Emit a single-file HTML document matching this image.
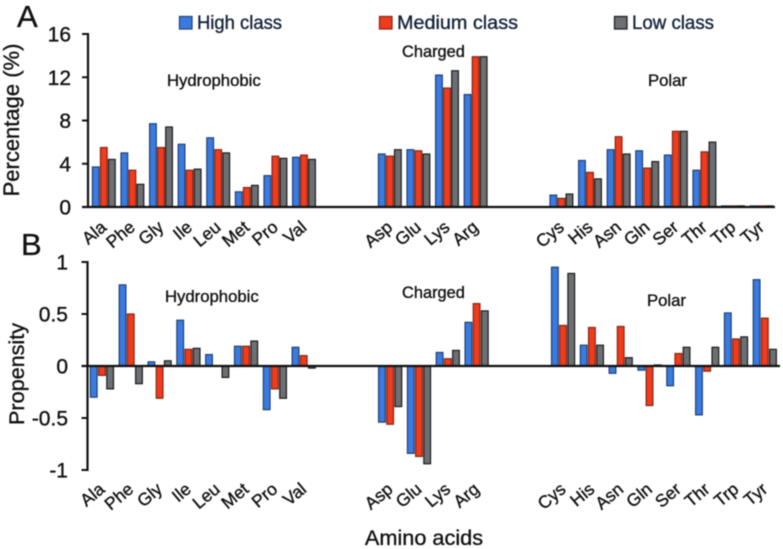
<!DOCTYPE html>
<html lang="en">
<head>
<meta charset="utf-8">
<title>Amino acid percentage and propensity by class</title>
<style>
html,body{margin:0;padding:0;background:#fff}
svg{display:block;filter:blur(.45px)}
text{font-family:"Liberation Sans",Arial,sans-serif;fill:#111;stroke:#111;stroke-width:.35px}
</style>
</head>
<body>
<svg id="chart" xmlns="http://www.w3.org/2000/svg" width="783" height="549" viewBox="0 0 783 549">
  <text x="17" y="27" font-size="31">A</text>
  <text x="21" y="255" font-size="31">B</text>

  <g>
    <rect x="179.5" y="16.5" width="12.5" height="12.5" fill="#3a7be0" stroke="#24477f" stroke-width="1.3"/>
    <text x="197" y="29" font-size="19" textLength="85" lengthAdjust="spacingAndGlyphs" style="fill:#14233a;stroke:#14233a">High class</text>
    <rect x="379.5" y="16.5" width="12.5" height="12.5" fill="#f23a1c" stroke="#8c2a18" stroke-width="1.3"/>
    <text x="397" y="29" font-size="19" textLength="121" lengthAdjust="spacingAndGlyphs" style="fill:#14233a;stroke:#14233a">Medium class</text>
    <rect x="614.5" y="16.5" width="12.5" height="12.5" fill="#6c7072" stroke="#222" stroke-width="1.3"/>
    <text x="632" y="29" font-size="19" textLength="82" lengthAdjust="spacingAndGlyphs" style="fill:#14233a;stroke:#14233a">Low class</text>
  </g>

  <text transform="translate(19,120) rotate(-90)" text-anchor="middle" font-size="22">Percentage (%)</text>
  <text transform="translate(24,374) rotate(-90)" text-anchor="middle" font-size="21.6">Propensity</text>
  <text x="424" y="545" text-anchor="middle" font-size="21.7">Amino acids</text>

  <text x="167" y="86" font-size="16.7">Hydrophobic</text>
  <text x="402" y="57" font-size="16.4">Charged</text>
  <text x="648" y="86" font-size="16.7">Polar</text>
  <text x="165" y="302" font-size="16.7">Hydrophobic</text>
  <text x="402" y="298" font-size="16.4">Charged</text>
  <text x="647" y="306" font-size="16.7">Polar</text>

  <g id="panelA"></g>
  <g id="panelB"></g>
</svg>
<script>
const categories = ['Ala','Phe','Gly','Ile','Leu','Met','Pro','Val','','','Asp','Glu','Lys','Arg','','','Cys','His','Asn','Gln','Ser','Thr','Trp','Tyr'];

const percentHigh   = [3.7,5.0,7.7,5.8,6.4,1.4,2.9,4.6,null,null,4.9,5.3,12.2,10.4,null,null,1.1,4.3,5.3,5.2,4.8,3.4,0.1,0.1];
const percentMedium = [5.5,3.4,5.5,3.4,5.3,1.8,4.7,4.8,null,null,4.7,5.2,11.0,13.9,null,null,0.8,3.2,6.5,3.6,7.0,5.1,0.1,0.1];
const percentLow    = [4.4,2.1,7.4,3.5,5.0,2.0,4.5,4.4,null,null,5.3,4.9,12.6,13.9,null,null,1.2,2.6,4.9,4.2,7.0,6.0,0.1,0.1];

const propensityHigh   = [-0.30,0.78,0.04,0.44,0.11,0.19,-0.42,0.18,null,null,-0.54,-0.84,0.13,0.42,null,null,0.95,0.20,-0.07,-0.04,-0.19,-0.47,0.51,0.83];
const propensityMedium = [-0.09,0.50,-0.31,0.16,0,0.19,-0.22,0.10,null,null,-0.56,-0.87,0.07,0.60,null,null,0.39,0.37,0.38,-0.38,0.12,-0.05,0.26,0.46];
const propensityLow    = [-0.22,-0.17,0.05,0.17,-0.11,0.24,-0.31,-0.02,null,null,-0.39,-0.94,0.15,0.53,null,null,0.89,0.20,0.08,0.01,0.18,0.18,0.28,0.16];

const percentTicks = [0,4,8,12,16];
const propensityTicks = [-1,-0.5,0,0.5,1];
const seriesNames = ['high','medium','low'];

const NS = 'http://www.w3.org/2000/svg';
const fills = ['#3a7be0','#f23a1c','#6c7072'];
const strokes = ['#1f3f75','#7f2616','#1c1c1c'];

function make(tag, attrs, parent) {
  const el = document.createElementNS(NS, tag);
  for (const k in attrs) el.setAttribute(k, attrs[k]);
  parent.appendChild(el);
  return el;
}

function drawPanel(cfg) {
  const g = document.getElementById(cfg.id);
  const slot = i => cfg.x0 + cfg.step * i;
  const y = v => cfg.yZero - v * cfg.yScale;

  cfg.series.forEach((values, s) => {
    values.forEach((v, i) => {
      if (v === null) return;
      const top = Math.min(y(v), y(0));
      const h = Math.abs(y(v) - y(0));
      const r = make('rect', {x: slot(i) + s * cfg.barStep + 0.4, y: top, width: 6.7, height: h,
        fill: fills[s], stroke: strokes[s], 'stroke-width': 1.2}, g);
      
      
    });
  });

  const yAxis = make('line', {x1: cfg.axisX, x2: cfg.axisX, y1: y(cfg.ticks[cfg.ticks.length - 1]) - 1, y2: y(cfg.ticks[0]) + 1,
    stroke: '#111', 'stroke-width': 2.2}, g);
  
  

  const xAxis = make('line', {x1: cfg.axisX - 6, x2: cfg.xEnd, y1: y(0), y2: y(0),
    stroke: '#111', 'stroke-width': 2.2}, g);
  
  

  cfg.ticks.forEach(t => {
    const tick = make('line', {x1: cfg.axisX - 6, x2: cfg.axisX, y1: y(t), y2: y(t), stroke: '#111', 'stroke-width': 2}, g);
    
    
    const label = make('text', {x: cfg.labelX, y: y(t) + 7.5, 'text-anchor': 'end', 'font-size': 21}, g);
    label.textContent = String(t);
    
    
  });

  categories.forEach((c, i) => {
    if (!c) return;
    const cx = slot(i) + cfg.barStep * 1.5 + 3.5;
    const label = make('text', {transform: 'translate(' + cx + ',' + cfg.catY + ') rotate(-40)',
      'text-anchor': 'end', 'font-size': 17.5}, g);
    label.textContent = c;
    
    
  });
}

drawPanel({id: 'panelA', prefix: 'panel-a', x0: 92, step: 28.6, barStep: 8.05, axisX: 88, xEnd: 775,
  yZero: 207, yScale: 173 / 16, ticks: percentTicks, labelX: 71, catY: 229,
  series: [percentHigh, percentMedium, percentLow]});

drawPanel({id: 'panelB', prefix: 'panel-b', x0: 90, step: 28.82, barStep: 8.2, axisX: 87.5, xEnd: 780,
  yZero: 366, yScale: 104, ticks: propensityTicks, labelX: 68, catY: 491,
  series: [propensityHigh, propensityMedium, propensityLow]});
</script>
</body>
</html>
